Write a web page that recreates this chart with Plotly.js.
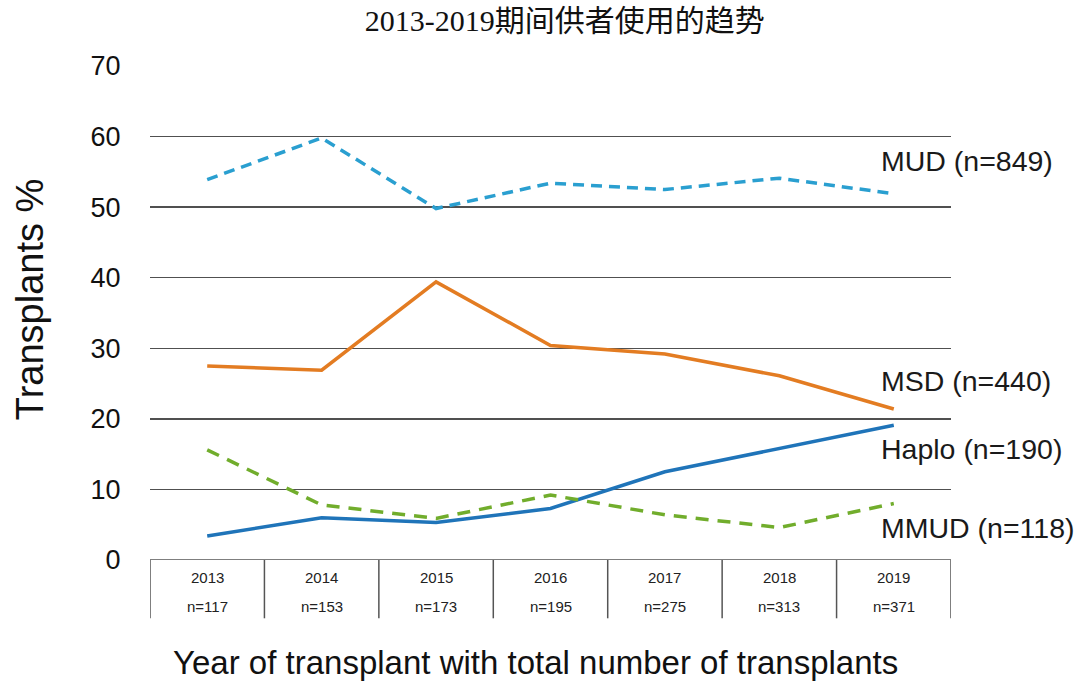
<!DOCTYPE html>
<html>
<head>
<meta charset="utf-8">
<script src="https://cdn.plot.ly/plotly-3.0.1.min.js"></script>
<style>html,body{margin:0;padding:0;background:#fff;}#chart{width:1080px;height:697px;}</style>
</head>
<body>
<div id="chart"></div>
<script>
const years = ['2013', '2014', '2015', '2016', '2017', '2018', '2019'];
const totals = ['n=117', 'n=153', 'n=173', 'n=195', 'n=275', 'n=313', 'n=371'];
const mud = [53.9, 59.8, 49.8, 53.4, 52.5, 54.1, 51.9];
const msd = [27.5, 26.9, 39.4, 30.4, 29.2, 26.1, 21.4];
const haplo = [3.4, 6.0, 5.3, 7.3, 12.5, 15.8, 19.1];
const mmud = [15.6, 7.8, 5.9, 9.2, 6.4, 4.6, 8.0];
const seriesLabels = ['MUD (n=849)', 'MSD (n=440)', 'Haplo (n=190)', 'MMUD (n=118)'];
const labelY = [56.5, 25.4, 15.7, 4.5];

const SANS = 'Liberation Sans, Arial, sans-serif';
const idx = years.map((_, i) => i);
const traces = [
  {x: idx, y: mud, mode: 'lines', line: {color: '#2A9FD0', width: 3.5, dash: '11px,7px'}},
  {x: idx, y: msd, mode: 'lines', line: {color: '#E37C22', width: 3.5}},
  {x: idx, y: haplo, mode: 'lines', line: {color: '#1F74B9', width: 3.5}},
  {x: idx, y: mmud, mode: 'lines', line: {color: '#71AD2C', width: 3.5, dash: '13px,9px'}}
];

const annotations = [];
years.forEach((yr, i) => {
  annotations.push({x: i, y: -0.036, xref: 'x', yref: 'paper', text: yr, showarrow: false,
    font: {family: SANS, size: 15, color: '#222'}, yanchor: 'middle'});
  annotations.push({x: i, y: -0.095, xref: 'x', yref: 'paper', text: totals[i], showarrow: false,
    font: {family: SANS, size: 15, color: '#222'}, yanchor: 'middle'});
});
seriesLabels.forEach((t, i) => {
  annotations.push({x: 5.87, y: labelY[i], xref: 'x', yref: 'y', text: t, showarrow: false, xanchor: 'left',
    font: {family: SANS, size: 28.5, color: '#1a1a1a'}});
});
annotations.push({x: 0.481, y: -0.2065, xref: 'paper', yref: 'paper', showarrow: false,
  text: 'Year of transplant with total number of transplants', xanchor: 'center', yanchor: 'middle',
  font: {family: SANS, size: 33, color: '#111'}});
annotations.push({x: -0.1498, y: 0.526, xref: 'paper', yref: 'paper', showarrow: false, textangle: -90,
  text: 'Transplants %', xanchor: 'center', yanchor: 'middle',
  font: {family: SANS, size: 38, color: '#111'}});

const shapes = [];
for (let k = 0; k <= years.length; k++) {
  shapes.push({type: 'line', xref: 'x', yref: 'paper', x0: k - 0.5, x1: k - 0.5, y0: 0, y1: -0.118,
    line: {color: '#555', width: 1.5}});
}
shapes.push({type: 'line', xref: 'paper', yref: 'y', x0: 0, x1: 1, y0: 0, y1: 0, line: {color: '#555', width: 1.5}});

const layout = {
  width: 1080, height: 697,
  margin: {l: 150, r: 129, t: 66, b: 137},
  paper_bgcolor: '#fff', plot_bgcolor: '#fff',
  showlegend: false,
  title: {text: '2013-2019期间供者使用的趋势', x: 0.523, xanchor: 'center', y: 0.97, yanchor: 'middle',
    font: {family: 'Liberation Serif, Noto Sans CJK SC, serif', size: 30, color: '#111'}},
  xaxis: {range: [-0.5, 6.5], showticklabels: false, showgrid: false, zeroline: false, showline: false, ticks: '',
    fixedrange: true},
  yaxis: {range: [0, 70], dtick: 10, showgrid: true, gridcolor: '#505050', gridwidth: 1.3, zeroline: false,
    showline: false, ticks: 'outside', ticklen: 23, tickcolor: 'rgba(0,0,0,0)',
    tickfont: {family: SANS, size: 27, color: '#111'}},
  annotations: annotations,
  shapes: shapes
};

Plotly.newPlot('chart', traces, layout, {displayModeBar: false, staticPlot: true});
</script>
</body>
</html>
